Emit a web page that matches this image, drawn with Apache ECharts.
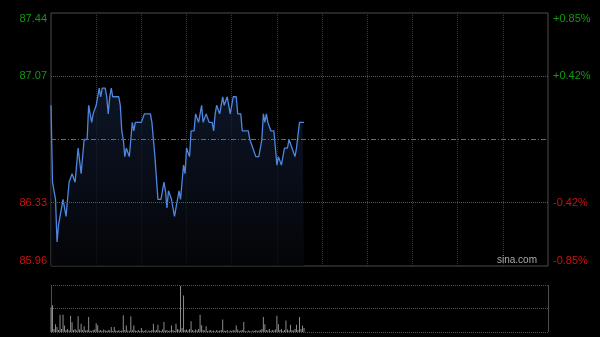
<!DOCTYPE html>
<html>
<head>
<meta charset="utf-8">
<script src="https://cdn.jsdelivr.net/npm/echarts@6/dist/echarts.min.js"></script>
<style>
html,body{margin:0;padding:0;background:#000;}
#c{width:600px;height:337px;}
</style>
</head>
<body>
<div id="c"></div>
<script>
// Session length in minutes (HK: 9:30-12:00, 13:00-16:00)
const sessionMinutes = 330;
const prevClose = 86.70;
const priceTicks = [85.96, 86.33, 87.07, 87.44];

// Minute prices from the open (one value per minute)
const prices = [
  86.90,86.45,86.40,86.35,86.10,86.20,86.25,86.30,86.35,86.35,
  86.25,86.25,86.45,86.45,86.50,86.50,86.45,86.55,86.65,86.65,
  86.50,86.60,86.70,86.70,86.70,86.90,86.85,86.80,86.85,86.85,
  86.90,86.90,87.00,86.95,87.00,87.00,87.00,86.95,86.85,86.95,
  87.00,86.95,86.95,86.95,86.95,86.95,86.90,86.75,86.70,86.60,
  86.65,86.65,86.60,86.70,86.80,86.75,86.80,86.80,86.80,86.80,
  86.80,86.80,86.85,86.85,86.85,86.85,86.85,86.80,86.70,86.60,
  86.60,86.35,86.35,86.35,86.40,86.45,86.40,86.30,86.40,86.40,
  86.35,86.30,86.25,86.30,86.35,86.40,86.35,86.45,86.55,86.50,
  86.65,86.65,86.60,86.75,86.75,86.75,86.85,86.85,86.80,86.85,
  86.90,86.80,86.80,86.85,86.85,86.80,86.80,86.80,86.75,86.85,
  86.90,86.90,86.85,86.90,86.95,86.90,86.90,86.95,86.95,86.85,
  86.90,86.95,86.95,86.95,86.85,86.85,86.85,86.75,86.75,86.75,
  86.75,86.75,86.70,86.70,86.65,86.65,86.60,86.60,86.60,86.60,
  86.70,86.85,86.80,86.85,86.80,86.80,86.75,86.75,86.75,86.65,
  86.55,86.60,86.60,86.55,86.60,86.65,86.65,86.65,86.70,86.70,
  86.65,86.65,86.60,86.65,86.65,86.80,86.80,86.80,86.80
];

// Minute volumes (thousand shares)
const volumes = [
  250,273,30,80,50,20,177,30,177,67,
  20,30,15,167,100,20,30,15,160,25,
  83,20,60,15,20,153,15,10,20,25,
  90,70,15,20,10,25,15,10,20,15,
  50,10,50,15,10,20,10,15,170,20,
  67,15,10,160,20,67,15,10,20,10,
  40,15,10,20,5,15,10,20,83,15,
  20,73,15,10,25,103,15,20,10,15,
  67,20,10,83,30,20,470,40,373,20,
  25,15,30,110,20,10,25,15,30,177,
  70,20,15,60,10,15,20,10,15,5,
  20,10,15,20,127,15,10,20,5,15,
  10,20,15,67,25,10,15,20,103,10,
  5,15,10,5,15,10,20,10,15,20,
  30,153,80,20,15,30,10,20,15,25,
  167,80,20,30,10,20,117,25,15,75,
  20,15,30,75,20,153,30,67,40
];
const volumeMax = 480;

const pct = p => (p - prevClose) / prevClose * 100;
const pctTicks = priceTicks.map(pct);
const upColor = '#119911', downColor = '#cc1111';

const priceData = prices.map((p, i) => [i, p]);
const volData = volumes.map((v, i) => [i, v]);

const chart = echarts.init(document.getElementById('c'), null, {renderer: 'canvas'});
chart.setOption({
  backgroundColor: '#000',
  animation: false,
  grid: [
    {left: 51, right: 52, top: 13, height: 253, show: true, borderColor: '#4d4d4d', borderWidth: 1, backgroundColor: 'transparent'},
    {left: 51, right: 52, top: 285, height: 47, show: false}
  ],
  xAxis: [
    {gridIndex: 0, type: 'value', min: 0, max: sessionMinutes, interval: 30,
     axisLine: {show: false}, axisTick: {show: false}, axisLabel: {show: false},
     splitLine: {show: true, showMinLine: false, showMaxLine: false, lineStyle: {color: '#383838', type: 'dotted', width: 1}}},
    {gridIndex: 1, type: 'value', min: 0, max: sessionMinutes, interval: sessionMinutes,
     axisLine: {show: false}, axisTick: {show: false}, axisLabel: {show: false},
     splitLine: {show: true, lineStyle: {color: '#4d4d4d', type: 'solid', width: 1}}}
  ],
  yAxis: [
    {gridIndex: 0, type: 'value', min: priceTicks[0], max: priceTicks[priceTicks.length - 1], position: 'left',
     axisLine: {show: false}, axisTick: {show: false}, splitLine: {show: false},
     axisLabel: {customValues: priceTicks, margin: 4, fontSize: 11, fontFamily: 'Liberation Sans, Arial, sans-serif',
       verticalAlignMinLabel: 'bottom', verticalAlignMaxLabel: 'top',
       formatter: v => v.toFixed(2),
       color: v => (v > prevClose ? upColor : downColor)}},
    {gridIndex: 0, type: 'value', min: pctTicks[0], max: pctTicks[pctTicks.length - 1], position: 'right',
     axisLine: {show: false}, axisTick: {show: false}, splitLine: {show: false},
     axisLabel: {customValues: pctTicks, margin: 5, fontSize: 11, fontFamily: 'Liberation Sans, Arial, sans-serif',
       verticalAlignMinLabel: 'bottom', verticalAlignMaxLabel: 'top',
       formatter: v => (v > 0 ? '+' : '-') + (Math.floor(Math.abs(v) * 100 + 1e-6) / 100).toFixed(2) + '%',
       color: v => (v > 0 ? upColor : downColor)}},
    {gridIndex: 1, type: 'value', min: 0, max: volumeMax, interval: volumeMax / 2,
     axisLine: {show: false}, axisTick: {show: false}, axisLabel: {show: false},
     splitLine: {show: true, lineStyle: {color: '#555', type: 'dotted', width: 1}}}
  ],
  graphic: [
    {type: 'text', right: 63, top: 255, style: {text: 'sina.com', fill: '#aaaaaa', font: '10px "Liberation Sans", Arial, sans-serif'}, z: 100}
  ],
  series: [
    {type: 'line', xAxisIndex: 0, yAxisIndex: 0, data: priceData, showSymbol: false, silent: true,
     lineStyle: {color: '#4f86df', width: 1.3},
     areaStyle: {origin: 'start', color: new echarts.graphic.LinearGradient(0, 0, 0, 1, [
       {offset: 0, color: '#121e36'}, {offset: 1, color: '#05070c'}])},
     markLine: {silent: true, symbol: 'none', label: {show: false}, animation: false,
       data: [
         {yAxis: priceTicks[1], lineStyle: {color: '#5a5a5a', type: 'dotted', width: 1}},
         {yAxis: priceTicks[2], lineStyle: {color: '#5a5a5a', type: 'dotted', width: 1}},
         {yAxis: prevClose, lineStyle: {color: '#6a6a6a', type: [5, 2, 1, 2], width: 1}}
       ]}},
    {type: 'bar', xAxisIndex: 1, yAxisIndex: 2, data: volData, barWidth: 1, silent: true,
     itemStyle: {color: '#8c8c8c'}}
  ]
});
</script>
</body>
</html>
